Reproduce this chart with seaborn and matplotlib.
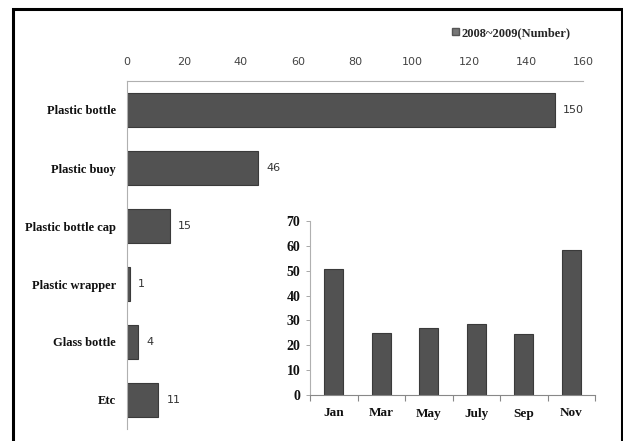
import matplotlib
matplotlib.use("Agg")
import matplotlib.pyplot as plt
from matplotlib.patches import Rectangle, Patch
import seaborn as sns
import pandas as pd

# Debris counts by item type
items = ["Plastic bottle", "Plastic buoy", "Plastic bottle cap",
         "Plastic wrapper", "Glass bottle", "Etc"]
item_counts = [150, 46, 15, 1, 4, 11]

# Debris counts by survey month
months = ["Jan", "Mar", "May", "July", "Sep", "Nov"]
month_counts = [50.5, 25, 27, 28.5, 24.5, 58.5]

x_ticks = [0, 20, 40, 60, 80, 100, 120, 140, 160]
y_ticks_inset = [0, 10, 20, 30, 40, 50, 60, 70]
legend_label = "2008~2009(Number)"

sns.set_theme(style="white")
plt.rcParams["font.family"] = ["DejaVu Sans"]

W, H = 623, 441
fig = plt.figure(figsize=(W / 100, H / 100), dpi=100)

def px_axes(x0, y0, x1, y1):
    return fig.add_axes([x0 / W, 1 - y1 / H, (x1 - x0) / W, (y1 - y0) / H])

bar_color = "#525252"
edge_color = "#3a3a3a"

# Main horizontal bar chart
ax = px_axes(127, 81, 583, 429)
df_items = pd.DataFrame({"item": items, "count": item_counts})
sns.barplot(data=df_items, y="item", x="count", orient="h", ax=ax,
            color=bar_color, saturation=1, width=0.59,
            edgecolor=edge_color, linewidth=0.8)
ax.set_xlim(0, 160)
ax.set_xticks(x_ticks)
ax.xaxis.tick_top()
ax.tick_params(axis="x", length=0, pad=10, labelsize=8, labelcolor="#444444")
ax.tick_params(axis="y", length=0, pad=8)
for lab in ax.get_yticklabels():
    lab.set_fontfamily("Liberation Serif")
    lab.set_fontweight("bold")
    lab.set_fontsize(9)
    lab.set_color("#111111")
ax.set_xlabel("")
ax.set_ylabel("")
for side in ["right", "bottom"]:
    ax.spines[side].set_visible(False)
for side in ["top", "left"]:
    ax.spines[side].set_color("#b0b0b0")
    ax.spines[side].set_linewidth(0.8)
for cont in ax.containers:
    ax.bar_label(cont, labels=[str(v) for v in item_counts], padding=6,
                 fontsize=8, color="#333333")

ax.legend(handles=[Patch(facecolor="#777777", edgecolor="#555555")],
          labels=[legend_label], loc="center left",
          bbox_to_anchor=(452 / W, 1 - 33 / H), bbox_transform=fig.transFigure,
          frameon=False, handlelength=0.55, handleheight=0.55,
          handletextpad=0.2, borderaxespad=0, borderpad=0,
          prop=dict(family="Liberation Serif", weight="bold", size=9))

# Inset monthly bar chart
ins = px_axes(310, 221, 595, 395)
df_months = pd.DataFrame({"month": months, "count": month_counts})
sns.barplot(data=df_months, x="month", y="count", ax=ins,
            color=bar_color, saturation=1, width=0.4,
            edgecolor=edge_color, linewidth=0.8)
ins.set_ylim(0, 70)
ins.set_yticks(y_ticks_inset)
ins.set_xlim(-0.5, len(months) - 0.5)
ins.set_xticks([i - 0.5 for i in range(len(months) + 1)], minor=True)
ins.tick_params(axis="x", which="major", length=0, pad=9)
ins.tick_params(axis="x", which="minor", length=4, width=0.8,
                color="#888888", direction="out", bottom=True)
ins.tick_params(axis="y", length=3, width=0.6, color="#999999",
                direction="out", left=True, pad=4)
for lab in ins.get_yticklabels():
    lab.set_fontfamily("Liberation Serif")
    lab.set_fontweight("bold")
    lab.set_fontsize(10)
    lab.set_color("#111111")
for lab in ins.get_xticklabels():
    lab.set_fontfamily("Liberation Serif")
    lab.set_fontweight("bold")
    lab.set_fontsize(9.5)
    lab.set_color("#111111")
ins.set_xlabel("")
ins.set_ylabel("")
ins.patch.set_alpha(0)
for side in ["right", "top"]:
    ins.spines[side].set_visible(False)
ins.spines["left"].set_color("#b0b0b0")
ins.spines["bottom"].set_color("#888888")
for side in ["left", "bottom"]:
    ins.spines[side].set_linewidth(0.8)

# Outer frame
fig.patches.append(Rectangle((13 / W, -0.05), (622 - 13) / W, 1.05 - 9 / H,
                             transform=fig.transFigure, fill=False,
                             edgecolor="black", linewidth=2.2))

fig.savefig("out.png", dpi=100)
